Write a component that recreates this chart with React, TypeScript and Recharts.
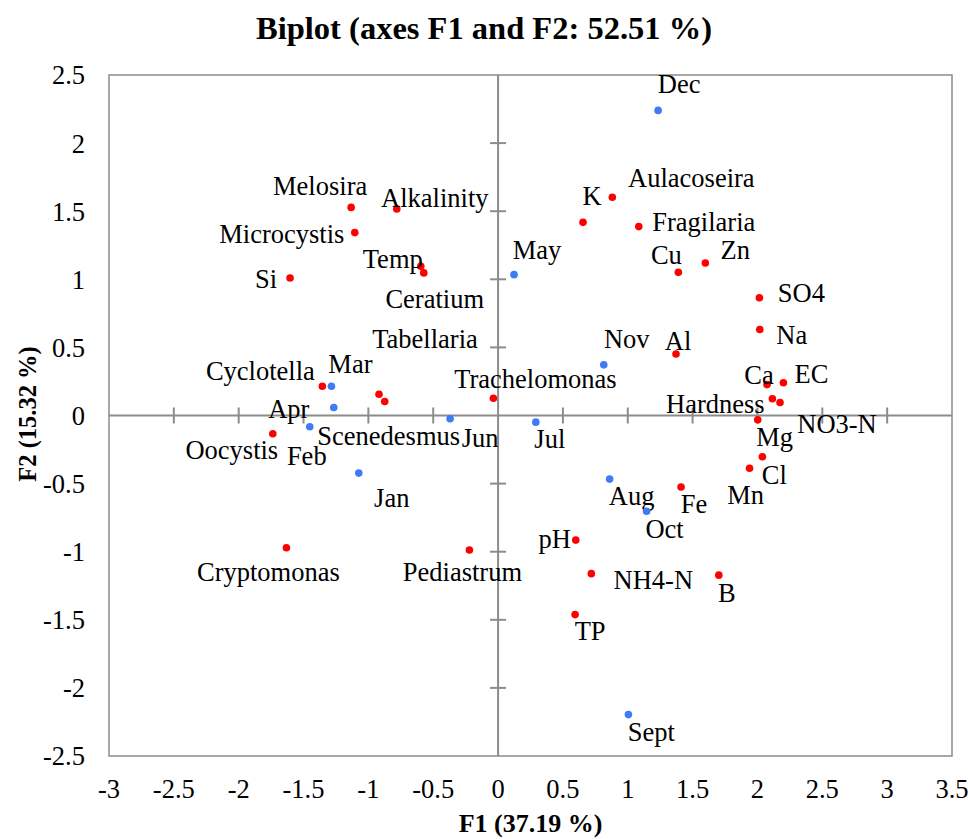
import { ScatterChart, Scatter, XAxis, YAxis, ReferenceLine, ReferenceArea } from "recharts"

// active variables (red)
const variableNames = [
  "Melosira", "Alkalinity", "Microcystis", "Si", "Temp", "Ceratium", "Cyclotella",
  "Tabellaria", "Scenedesmus", "Trachelomonas", "Oocystis", "Cryptomonas", "Pediastrum",
  "K", "Aulacoseira", "Fragilaria", "Cu", "Zn", "SO4", "Na", "Al", "Ca", "EC",
  "Hardness", "NO3-N", "Mg", "Cl", "Mn", "Fe", "pH", "NH4-N", "B", "TP",
]
const variableF1 = [
  -1.133, -0.781, -1.105, -1.604, -0.596, -0.573, -1.355,
  -0.918, -0.874, -0.036, -1.737, -1.632, -0.221,
  0.655, 0.881, 1.085, 1.39, 1.598, 2.015, 2.018, 1.372, 2.074, 2.2,
  2.115, 2.174, 2.002, 2.038, 1.939, 1.411, 0.599, 0.719, 1.702, 0.594,
]
const variableF2 = [
  1.528, 1.517, 1.343, 1.01, 1.095, 1.047, 0.215,
  0.156, 0.103, 0.127, -0.134, -0.971, -0.988,
  1.418, 1.602, 1.387, 1.051, 1.12, 0.864, 0.631, 0.451, 0.227, 0.24,
  0.123, 0.095, -0.032, -0.303, -0.387, -0.525, -0.915, -1.161, -1.172, -1.462,
]

// observations (blue)
const monthNames = ["Jan", "Feb", "Mar", "Apr", "May", "Jun", "Jul", "Aug", "Sept", "Oct", "Nov", "Dec"]
const monthF1 = [-1.074, -1.452, -1.285, -1.267, 0.123, -0.37, 0.291, 0.86, 1.005, 1.145, 0.815, 1.234]
const monthF2 = [-0.423, -0.083, 0.215, 0.059, 1.034, -0.024, -0.049, -0.467, -2.196, -0.703, 0.372, 2.24]

const xTicks = [-3, -2.5, -2, -1.5, -1, -0.5, 0, 0.5, 1, 1.5, 2, 2.5, 3, 3.5]
const yTicks = [-2.5, -2, -1.5, -1, -0.5, 0, 0.5, 1, 1.5, 2, 2.5]

// where each label sits relative to its dot (px)
const labelShift: Record<string, [number, number]> = {
  Melosira: [-31, -21], Alkalinity: [38, -11], Microcystis: [-73, 1], Si: [-24, 1],
  Temp: [-28, -7], Ceratium: [11, 26], Cyclotella: [-62, -15], Tabellaria: [46, -55],
  Scenedesmus: [4, 35], Trachelomonas: [42, -19], Oocystis: [-41, 16], Cryptomonas: [-18, 24],
  Pediastrum: [-7, 22], K: [9, -26], Aulacoseira: [79, -19], Fragilaria: [65, -5],
  Cu: [-12, -17], Zn: [30, -13], SO4: [42, -5], Na: [32, 5], Al: [2, -13],
  Ca: [-8, -10], EC: [28, -9], Hardness: [-57, 5], "NO3-N": [57, 21], Mg: [17, 17],
  Cl: [12, 18], Mn: [-4, 27], Fe: [13, 17], pH: [-21, -1], "NH4-N": [62, 6],
  B: [8, 18], TP: [15, 16],
  Jan: [33, 25], Feb: [-3, 29], Mar: [19, -22], Apr: [-45, 2], May: [23, -25],
  Jun: [30, 19], Jul: [14, 17], Aug: [22, 17], Sept: [23, 17], Oct: [18, 18],
  Nov: [23, -26], Dec: [21, -26],
}

const FONT = "'Liberation Serif', 'Times New Roman', serif"
const GREY = "#8c8c8c"
const RED = "#ff0000"
const BLUE = "#3f7bf7"

const variables = variableNames.map((name, i) => ({ name, x: variableF1[i], y: variableF2[i] }))
const months = monthNames.map((name, i) => ({ name, x: monthF1[i], y: monthF2[i] }))
const xCross = xTicks.filter((t) => t !== 0 && t > -3 && t < 3.5).map((t) => ({ x: t, y: 0 }))
const yCross = yTicks.filter((t) => t !== 0 && t > -2.5 && t < 2.5).map((t) => ({ x: 0, y: t }))

function labelledDot(color: string) {
  return (props: any) => {
    const { cx, cy, payload } = props
    const [dx, dy] = labelShift[payload.name] ?? [0, -20]
    return (
      <g>
        <circle cx={cx} cy={cy} r={3.8} fill={color} />
        <text
          x={cx + dx}
          y={cy + dy}
          textAnchor="middle"
          dominantBaseline="central"
          style={{ fontSize: 26.5, fontFamily: FONT, fill: "#000" }}
        >
          {payload.name}
        </text>
      </g>
    )
  }
}

const vTick = (p: any) => <line x1={p.cx} x2={p.cx} y1={p.cy - 8} y2={p.cy + 8} stroke={GREY} strokeWidth={2} />
const hTick = (p: any) => <line x1={p.cx - 8} x2={p.cx + 8} y1={p.cy} y2={p.cy} stroke={GREY} strokeWidth={2} />

const tickStyle = { fontSize: 26.5, fontFamily: FONT, fill: "#000", style: { fontFamily: FONT } }

export default function App() {
  return (
    <div style={{ position: "absolute", left: 0, top: 0, width: 968, height: 839, background: "#fff", fontFamily: FONT }}>
      <div
        style={{
          position: "absolute", left: 0, top: 12, width: 968, textAlign: "center",
          fontWeight: "bold", fontSize: 32.5, lineHeight: "33px",
        }}
      >
        Biplot (axes F1 and F2: 52.51 %)
      </div>
      <div
        style={{
          position: "absolute", left: 0, top: 811, width: 1061, textAlign: "center",
          fontWeight: "bold", fontSize: 26, lineHeight: "26px",
        }}
      >
        F1 (37.19 %)
      </div>
      <div
        style={{
          position: "absolute", left: 27, top: 414, transform: "translate(-50%, -50%) rotate(-90deg)",
          whiteSpace: "nowrap", fontWeight: "bold", fontSize: 24.5, lineHeight: "25px",
        }}
      >
        F2 (15.32 %)
      </div>
      <ScatterChart
        width={968}
        height={839}
        margin={{ top: 75, right: 16, bottom: 0, left: 0 }}
        style={{ fontFamily: FONT }}
      >
        <XAxis
          type="number"
          dataKey="x"
          domain={[-3, 3.5]}
          ticks={xTicks}
          interval={0}
          height={83}
          axisLine={false}
          tickLine={false}
          tickMargin={17}
          tick={tickStyle}
          allowDataOverflow
        />
        <YAxis
          type="number"
          dataKey="y"
          domain={[-2.5, 2.5]}
          ticks={yTicks}
          interval={0}
          width={109}
          axisLine={false}
          tickLine={false}
          tickMargin={18}
          tick={tickStyle}
          allowDataOverflow
        />
        <ReferenceArea x1={-3} x2={3.5} y1={-2.5} y2={2.5} fill="none" stroke={GREY} strokeWidth={1.5} />
        <ReferenceLine x={0} stroke={GREY} strokeWidth={2} />
        <ReferenceLine y={0} stroke={GREY} strokeWidth={2} />
        <Scatter data={xCross} shape={vTick} isAnimationActive={false} />
        <Scatter data={yCross} shape={hTick} isAnimationActive={false} />
        <Scatter data={months} shape={labelledDot(BLUE)} isAnimationActive={false} />
        <Scatter data={variables} shape={labelledDot(RED)} isAnimationActive={false} />
      </ScatterChart>
    </div>
  )
}
